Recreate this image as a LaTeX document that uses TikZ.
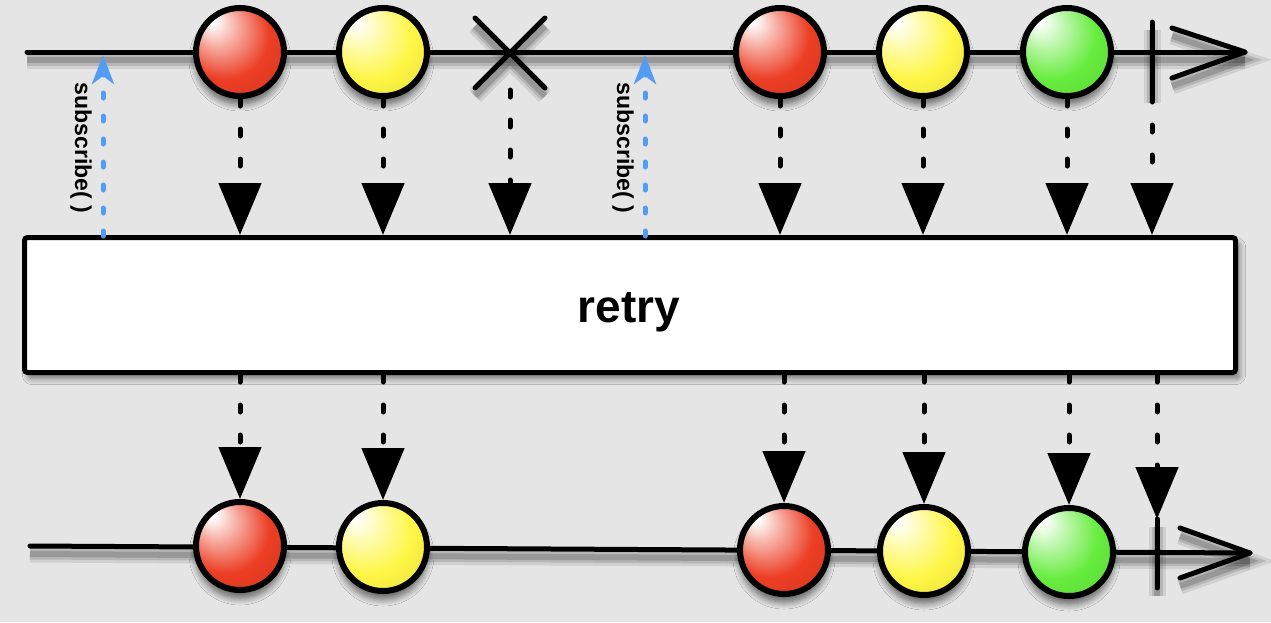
\documentclass[tikz,border=0pt]{standalone}
\usepackage{fontspec}
\setmainfont{Liberation Sans}
\usetikzlibrary{arrows.meta,shadows,shadows.blur}
\definecolor{bg}{RGB}{229,229,229}
\definecolor{bred}{RGB}{236,62,36}
\definecolor{byel}{RGB}{255,246,70}
\definecolor{bgrn}{RGB}{102,236,62}
\definecolor{subblue}{RGB}{82,156,245}
\newcommand\mkballshading[2]{\pgfdeclareradialshading{#1}{\pgfpoint{-17bp}{19bp}}{color(0bp)=(white); color(2bp)=(white); color(12bp)=(#2!45!white); color(25bp)=(#2); color(40bp)=(#2!90!black); color(50bp)=(#2!72!black)}}
\mkballshading{redball}{bred}
\mkballshading{yelball}{byel}
\mkballshading{grnball}{bgrn}
\begin{document}
\begin{tikzpicture}[x=1pt,y=-1pt,
  lshadow/.style={preaction={draw=black,opacity=0.09,line width=17pt,transform canvas={yshift=-8pt}},
                  preaction={draw=black,opacity=0.12,line width=11pt,transform canvas={yshift=-8pt}},
                  preaction={draw=black,opacity=0.16,line width=6pt,transform canvas={yshift=-8pt}}},
  tline/.style={line width=5pt,line cap=round,line join=round,lshadow},
  ball/.style={circle,draw=black,line width=6pt,minimum size=88pt,inner sep=0pt,shade,shading=#1,
    blur shadow={shadow xshift=0pt,shadow yshift=-8pt,shadow blur radius=7pt,shadow blur steps=10,shadow opacity=60}},
  boxst/.style={draw=black,fill=white,line width=5pt,rounded corners=3pt,
    blur shadow={shadow xshift=4pt,shadow yshift=-6pt,shadow blur radius=6pt,shadow blur steps=10,shadow opacity=50}},
  lblst/.style={font=\bfseries\fontsize{46}{46}\selectfont,inner sep=0pt},
  flow/.style={line width=5pt,line cap=round,dash pattern=on 7pt off 23pt,
    -{Triangle[length=52pt,width=42pt]}},
  subarrow/.style={draw=subblue,line width=5pt,line cap=round,dash pattern=on 5pt off 18pt,
    -{Stealth[length=29pt,width=22pt,inset=8pt,line cap=butt]}},
  subtext/.style={font=\bfseries\fontsize{23}{23}\selectfont,rotate=-90,inner sep=0pt}
]
\fill[bg] (0,0) rectangle (1271,622);
\useasboundingbox (0,0) rectangle (1271,622);

% ---- top time line
\coordinate (tL) at (27,52);
\coordinate (tR) at (1245,52);
\coordinate (tA1) at (1172,28);
\coordinate (tA2) at (1172,78);
\draw[tline] (tL) -- (tR);
\draw[tline] (tA1) -- (tR) -- (tA2);
% error cross
\coordinate (xe) at (510,52);
\coordinate (xb) at (510,90);
\draw[tline] (475,18) -- (545,88) (475,88) -- (545,18);
% completion bar
\coordinate (ct) at (1152,22);
\coordinate (cb) at (1152,95);
\draw[tline] (ct) -- (cb);

% ---- bottom time line
\coordinate (bL) at (30,546);
\coordinate (bR) at (1250,553);
\coordinate (bA1) at (1180,528);
\coordinate (bA2) at (1180,578);
\draw[tline] (bL) -- (bR);
\draw[tline] (bA1) -- (bR) -- (bA2);
\coordinate (bct) at (1157,519);
\coordinate (bcb) at (1157,588);
\draw[tline] (bct) -- (bcb);

% ---- balls
\node[ball=redball] (r1) at (240,52) {};
\node[ball=yelball] (y1) at (383,52) {};
\node[ball=redball] (r2) at (780,52) {};
\node[ball=yelball] (y2) at (923,52) {};
\node[ball=grnball] (g1) at (1067,52) {};

\node[ball=redball] (br1) at (240,546) {};
\node[ball=yelball] (by1) at (383,547) {};
\node[ball=redball] (br2) at (784,550) {};
\node[ball=yelball] (by2) at (924,551) {};
\node[ball=grnball] (bg1) at (1069,552) {};

% ---- operator box
\node[boxst,minimum width=1211pt,minimum height=135pt] (box) at (630,305) {};
\node[lblst] (lbl) at (629,312) {retry};

% ---- flows into box
\foreach \n in {r1,y1,r2,y2,g1}
  \draw[flow] (\n.south) -- (\n.south |- box.north);
\draw[flow] (xb) -- (xb |- box.north);
\draw[flow] (cb) -- (cb |- box.north);

% ---- flows out of box
\foreach \n in {br1,by1,br2,by2,bg1}
  \draw[flow] (\n.north |- box.south) -- (\n.north);
\draw[flow] (bct |- box.south) -- (bct);

% ---- subscribe arrows
\coordinate (s1b) at (103,236);
\coordinate (s1t) at (103,55);
\coordinate (s2b) at (645,236);
\coordinate (s2t) at (645,55);
\draw[subarrow] (s1b) -- (s1t);
\draw[subarrow] (s2b) -- (s2t);
\node[subtext] (t1) at (81,148) {subscribe( )};
\node[subtext] (t2) at (623,148) {subscribe( )};
\end{tikzpicture}
\end{document}
